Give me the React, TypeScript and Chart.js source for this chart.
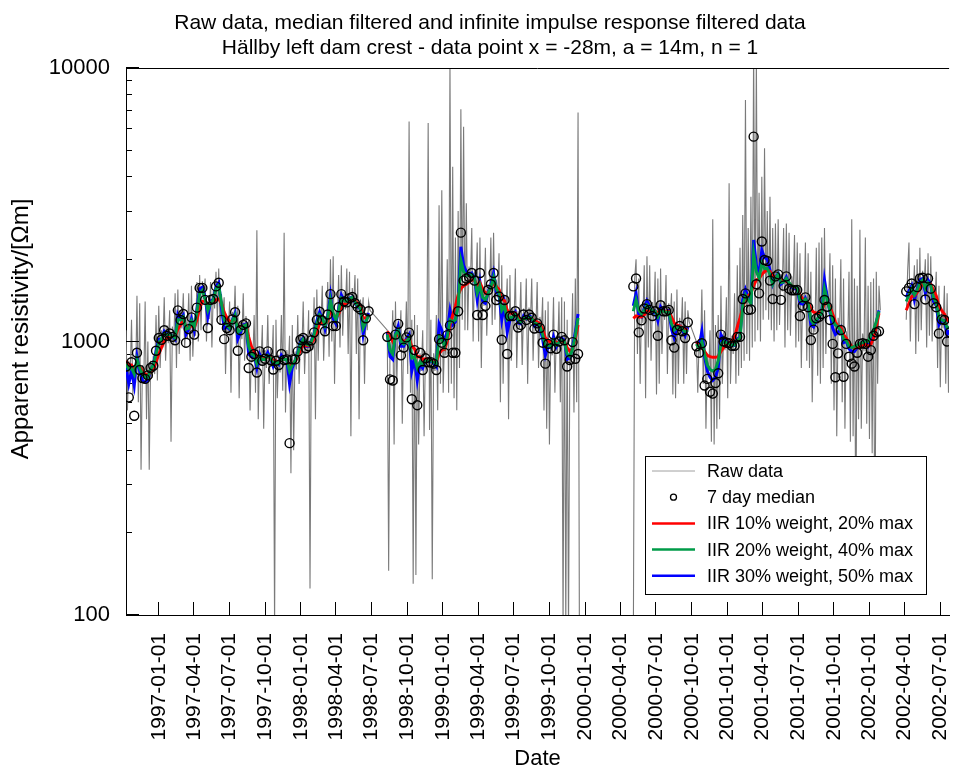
import { useEffect, useRef } from 'react';
import { Chart, registerables } from 'chart.js';

Chart.register(...registerables);

const FONT = "'Liberation Sans', Arial, Helvetica, sans-serif";
const DAY = 86400000;

const TITLE_LINES = [
  'Raw data, median filtered and infinite impulse response filtered data',
  'Hällby left dam crest - data point x = -28m, a = 14m, n = 1',
];
const X_TITLE = 'Date';
const Y_TITLE = 'Apparent resistivity/[Ωm]';

const AXIS_START = '1996-10-08T20:00:00Z';
const AXIS_END = '2002-07-24T02:00:00Z';

const X_TICKS = [
  '1997-01-01', '1997-04-01', '1997-07-01', '1997-10-01',
  '1998-01-01', '1998-04-01', '1998-07-01', '1998-10-01',
  '1999-01-01', '1999-04-01', '1999-07-01', '1999-10-01',
  '2000-01-01', '2000-04-01', '2000-07-01', '2000-10-01',
  '2001-01-01', '2001-04-01', '2001-07-01', '2001-10-01',
  '2002-01-01', '2002-04-01', '2002-07-01',
];
const Y_TICKS = [100, 200, 300, 400, 500, 600, 700, 800, 900, 1000, 2000, 3000, 4000, 5000, 6000, 7000, 8000, 9000, 10000];
const Y_LABELED = [100, 1000, 10000];

const SERIES_LABELS = [
  'Raw data',
  '7 day median',
  'IIR 10% weight, 20% max',
  'IIR 20% weight, 40% max',
  'IIR 30% weight, 50% max',
];
const SERIES_COLORS = ['#7a7a7a', '#000000', '#ff0000', '#009b48', '#0000ff'];

// Measurement periods. Filtered values are weekly from the period start,
// raw values come as (high, low) pairs twice a week.
const PERIOD_STARTS = ['1996-10-09', '1998-08-11', '2000-05-04', '2000-10-13', '2002-04-05'];

// ---- 1996-10 .. 1998-06
const medianA = [
  810, 625, 840, 535, 910, 787, 735, 730, 752, 800,
  815, 925, 1030, 1015, 1100, 1050, 1070, 1040, 1010, 1300,
  1199, 1260, 990, 1110, 1225, 1060, 1330, 1570, 1570, 1420,
  1120, 1420, 1430, 1590, 1640, 1200, 1020, 1120, 1100, 1205,
  1280, 925, 1100, 1150, 1165, 800, 880, 900, 770, 920,
  850, 865, 920, 856, 790, 850, 820, 900, 856, 860,
  425, 860, 860, 920, 1015, 1030, 945, 960, 1010, 1080,
  1200, 1285, 1195, 1090, 1255, 1490, 1140, 1140, 1335, 1490,
  1400, 1390, 1440, 1455, 1380, 1335, 1310, 1010, 1215, 1290,
];
const iir10A = [
  850, 820, 820, 790, 830, 810, 780, 760, 755, 770,
  790, 840, 900, 950, 1000, 1030, 1040, 1045, 1040, 1110,
  1150, 1190, 1130, 1120, 1150, 1120, 1200, 1330, 1400, 1410,
  1360, 1380, 1400, 1420, 1430, 1380, 1280, 1220, 1180, 1190,
  1210, 1140, 1130, 1140, 1150, 1040, 960, 920, 880, 880,
  870, 865, 880, 875, 850, 850, 840, 860, 860, 860,
  810, 830, 845, 880, 930, 970, 965, 965, 985, 1020,
  1090, 1160, 1180, 1150, 1190, 1300, 1260, 1220, 1260, 1340,
  1370, 1380, 1400, 1420, 1410, 1380, 1350, 1220, 1220, 1240,
];
const iir20A = [
  830, 790, 800, 760, 860, 800, 760, 740, 740, 790,
  820, 900, 990, 1020, 1070, 1060, 1060, 1050, 1030, 1200,
  1200, 1230, 1110, 1120, 1190, 1130, 1280, 1500, 1540, 1430,
  1300, 1380, 1420, 1560, 1600, 1380, 1200, 1150, 1120, 1190,
  1250, 1080, 1100, 1140, 1150, 960, 900, 890, 830, 880,
  860, 860, 890, 870, 830, 840, 830, 870, 860, 860,
  780, 820, 850, 900, 980, 1020, 980, 970, 1000, 1060,
  1160, 1250, 1220, 1140, 1220, 1420, 1270, 1200, 1300, 1440,
  1410, 1400, 1430, 1450, 1400, 1350, 1320, 1120, 1180, 1250,
];
const iir30A = [
  800, 700, 780, 690, 880, 780, 720, 710, 720, 790,
  820, 920, 1020, 1020, 1090, 1060, 1070, 1050, 1020, 1260,
  1210, 1250, 1060, 1110, 1210, 1100, 1310, 1560, 1580, 1450,
  1230, 1400, 1430, 1590, 1640, 1330, 1120, 1130, 1110, 1200,
  1270, 1020, 1080, 1150, 1160, 900, 880, 895, 800, 900,
  860, 865, 910, 865, 810, 845, 825, 890, 860, 860,
  700, 800, 850, 910, 1000, 1030, 960, 960, 1010, 1070,
  1190, 1280, 1210, 1110, 1240, 1470, 1210, 1160, 1320, 1480,
  1410, 1395, 1440, 1455, 1390, 1340, 1315, 1060, 1190, 1270,
];
const rawA = [
  1100, 560, 850, 735, 1200, 640, 820, 705, 1470, 600, 1380, 340, 820, 705, 1400, 520, 1000, 340, 850, 735,
  885, 760, 1250, 720, 1350, 800, 1100, 950, 1450, 850, 1145, 985, 1300, 430, 1135, 975, 1500, 800, 1550, 900,
  1300, 1115, 1500, 950, 1200, 1030, 1500, 850, 1600, 880, 1220, 1050, 1650, 1000, 1750, 1100, 1660, 1430, 1700, 1000,
  1400, 1210, 1650, 950, 1530, 1320, 1800, 1200, 1850, 1150, 1490, 1280, 1450, 760, 1240, 1070, 1400, 650, 1285, 1105,
  1600, 950, 1350, 620, 1190, 1020, 1500, 850, 1240, 1070, 1200, 560, 970, 840, 1250, 650, 2550, 520, 950, 820,
  1150, 480, 930, 800, 1250, 700, 940, 810, 1150, 90, 1200, 620, 895, 770, 1250, 660, 2500, 550, 930, 800,
  1050, 330, 1150, 400, 920, 790, 1250, 700, 1060, 910, 1400, 760, 1060, 910, 1300, 125, 1080, 930, 1450, 520,
  1550, 850, 1350, 1160, 1600, 850, 1230, 1060, 1650, 880, 2000, 1000, 2050, 700, 1300, 1115, 1750, 950, 1900, 1050,
  1520, 1310, 1850, 900, 1800, 450, 1570, 1350, 1750, 900, 1700, 520, 1425, 1230, 1450, 700, 1275, 1100, 1400, 1300,
];

// ---- 1998-08 .. 1999-12
const medianB = [
  1040, 727, 720, 1060, 1160, 890, 950, 1035, 1078, 615,
  930, 585, 910, 787, 868, 840, 840, 830, 787, 1020,
  990, 910, 1055, 1145, 910, 910, 1290, 2500, 1670, 1700,
  1720, 1780, 1670, 1250, 1780, 1250, 1350, 1543, 1620, 1780,
  1418, 1460, 1015, 1418, 900, 1240, 1240, 1290, 1125, 1150,
  1255, 1199, 1255, 1222, 1115, 1165, 1120, 990, 830, 980,
  945, 1060, 940, 1000, 1040, 1010, 810, 856, 995, 865, 900,
];
const iir10B = [
  1090, 1050, 1000, 1040, 1070, 1020, 1000, 1010, 1030, 960,
  940, 880, 880, 860, 865, 860, 855, 850, 840, 900,
  930, 935, 1000, 1150, 1250, 1350, 1480, 1560, 1600, 1620,
  1650, 1680, 1680, 1600, 1640, 1560, 1500, 1510, 1560, 1650,
  1590, 1550, 1430, 1410, 1300, 1280, 1260, 1270, 1230, 1200,
  1210, 1210, 1220, 1220, 1190, 1180, 1160, 1110, 1030, 1010,
  990, 1010, 990, 990, 1000, 1000, 950, 920, 940, 1020, 1150,
];
const iir20B = [
  1060, 930, 900, 1060, 1100, 1000, 980, 1000, 1030, 870,
  880, 800, 840, 820, 850, 850, 850, 840, 830, 1040,
  1020, 960, 1040, 1200, 1180, 1200, 1350, 1980, 1800, 1750,
  1740, 1760, 1700, 1500, 1600, 1450, 1420, 1500, 1580, 1720,
  1560, 1500, 1300, 1350, 1200, 1220, 1230, 1260, 1200, 1180,
  1220, 1210, 1230, 1220, 1170, 1160, 1140, 1060, 960, 970,
  955, 1010, 970, 990, 1010, 1000, 900, 880, 940, 1050, 1220,
];
const iir30B = [
  1080, 880, 860, 1070, 1140, 960, 960, 1020, 1060, 780,
  860, 720, 830, 800, 855, 845, 845, 835, 810, 1160,
  1100, 980, 1100, 1300, 1150, 1180, 1400, 2220, 1900, 1800,
  1760, 1780, 1710, 1420, 1650, 1400, 1380, 1520, 1610, 1780,
  1520, 1480, 1200, 1360, 1080, 1200, 1230, 1280, 1170, 1160,
  1240, 1210, 1245, 1225, 1140, 1160, 1130, 1020, 890, 960,
  950, 1040, 955, 995, 1030, 1010, 860, 870, 960, 1080, 1260,
];
const rawB = [
  1100, 145, 1000, 865, 1300, 420, 1400, 700, 1190, 1020, 1300, 500, 1060, 910, 1400, 760, 6370, 650, 1200, 130,
  1250, 140, 1150, 420, 905, 780, 1100, 450, 920, 790, 6300, 475, 1200, 135, 905, 780, 1250, 560, 3150, 700,
  3570, 650, 1040, 890, 2000, 650, 10500, 700, 4350, 620, 2400, 560, 3000, 800, 7060, 1200, 6100, 1100, 3200, 1100,
  1880, 1620, 2600, 1000, 1835, 1580, 2300, 1000, 2400, 800, 1565, 1350, 2200, 1050, 1620, 1395, 2400, 1150, 2500, 1200,
  1685, 1450, 2100, 600, 1900, 700, 1460, 1255, 1700, 520, 1750, 850, 1330, 1145, 1850, 800, 1295, 1115, 1650, 820,
  1320, 1135, 1700, 700, 1330, 1145, 1700, 850, 1265, 1090, 1650, 800, 1230, 1060, 1450, 560, 1300, 480, 1400, 420,
  1030, 890, 1450, 650, 1050, 900, 1400, 600, 1450, 90, 1400, 90, 1200, 85, 950, 820, 1500, 550, 1700, 600, 6870, 80,
];

// ---- 2000-05 .. 2000-09
const medianC1 = [
  1590, 1700, 1080, 1195, 1320, 1370, 1305, 1240, 1290, 1050,
  1357, 1290, 1290, 1305, 1010, 950, 1102, 1140, 1090, 1030, 1175,
];
const iir10C1 = [
  1215, 1240, 1230, 1230, 1250, 1290, 1300, 1290, 1290, 1270,
  1290, 1290, 1290, 1290, 1230, 1170, 1150, 1140, 1120, 1100, 1110,
];
const iir20C1 = [
  1290, 1420, 1300, 1260, 1300, 1360, 1330, 1290, 1290, 1230,
  1300, 1290, 1280, 1280, 1160, 1100, 1120, 1130, 1110, 1080, 1100,
];
const iir30C1 = [
  1350, 1500, 1250, 1230, 1320, 1410, 1340, 1270, 1290, 1190,
  1340, 1290, 1290, 1300, 1110, 1030, 1110, 1140, 1100, 1050, 1130,
];
const rawC1 = [
  80, 1700, 2000, 900, 1700, 700, 1360, 1170, 1900, 620, 2050, 950, 1900, 850, 1395, 1200, 1800, 640, 1700, 700,
  1850, 900, 1395, 1200, 1750, 760, 1380, 1190, 1500, 640, 1400, 620, 1550, 700, 1220, 1050, 1450, 700, 1400, 760, 1300, 1180,
];

// ---- 2000-10 .. 2002-01
const medianC2 = [
  960, 910, 985, 690, 730, 655, 645, 705, 765, 1060,
  1000, 990, 985, 965, 965, 1040, 1040, 1430, 1500, 1305,
  1310, 5610, 1620, 1500, 2320, 1986, 1970, 1670, 1430, 1730,
  1760, 1420, 1600, 1730, 1560, 1540, 1540, 1543, 1240, 1350,
  1450, 1335, 1013, 1105, 1215, 1230, 1260, 1418, 1340, 1199,
  980, 740, 905, 1102, 743, 980, 880, 830, 810, 910,
  980, 985, 980, 880, 930, 1050, 1080, 1090,
];
const iir10C2 = [
  1000, 960, 950, 920, 890, 880, 875, 875, 880, 920,
  950, 970, 985, 1000, 1040, 1130, 1220, 1330, 1420, 1470,
  1500, 1600, 1680, 1700, 1760, 1800, 1830, 1800, 1740, 1720,
  1720, 1680, 1660, 1660, 1630, 1600, 1580, 1560, 1480, 1430,
  1420, 1390, 1320, 1280, 1270, 1270, 1290, 1380, 1380, 1340,
  1260, 1180, 1130, 1130, 1060, 1030, 990, 960, 945, 950,
  960, 970, 975, 960, 975, 1030, 1130, 1270,
];
const iir20C2 = [
  980, 945, 1000, 900, 820, 790, 780, 790, 850, 980,
  1000, 990, 980, 970, 970, 1010, 1030, 1350, 1480, 1420,
  1380, 2100, 1800, 1700, 1930, 1850, 1850, 1760, 1620, 1700,
  1760, 1640, 1650, 1700, 1640, 1600, 1580, 1570, 1420, 1400,
  1430, 1380, 1200, 1160, 1200, 1230, 1270, 1560, 1420, 1300,
  1200, 1150, 1130, 1100, 1020, 1010, 960, 950, 960, 970,
  985, 990, 1000, 1000, 1050, 1100, 1180, 1290,
];
const iir30C2 = [
  1000, 960, 1090, 880, 780, 740, 720, 740, 800, 1060,
  1020, 995, 985, 970, 968, 1020, 1040, 1420, 1550, 1450,
  1400, 2350, 1900, 1750, 2160, 2030, 2000, 1820, 1620, 1720,
  1770, 1620, 1650, 1720, 1620, 1580, 1560, 1560, 1380, 1370,
  1440, 1370, 1150, 1130, 1190, 1230, 1280, 1680, 1450, 1280,
  1120, 1060, 1080, 1120, 990, 1000, 940, 920, 920, 950,
  985, 990, 1000, 960, 1000, 1080, 1170, 1300,
];
const rawC2 = [
  1000, 650, 1020, 880, 1550, 700, 1300, 480, 885, 760, 1100, 430, 2800, 420, 1150, 480, 1250, 520, 1600, 700,
  1080, 930, 1450, 620, 3790, 700, 1050, 900, 1500, 700, 1900, 750, 2200, 800, 2900, 850, 7640, 900, 2600, 850,
  3380, 950, 12000, 1000, 11000, 1100, 3500, 1000, 4000, 1200, 5090, 1300, 3000, 1200, 3380, 1100, 2600, 1000, 2700, 1100,
  2800, 1150, 1770, 1525, 2600, 950, 2700, 1100, 2500, 1050, 1730, 1490, 2450, 950, 2300, 1000, 2100, 800, 1510, 1300,
  2300, 850, 2100, 800, 1800, 600, 1250, 1080, 2200, 750, 2300, 700, 2400, 800, 2600, 900, 1535, 1320, 2100, 700,
  1900, 560, 1700, 450, 1220, 1050, 2000, 600, 1700, 480, 1090, 940, 1800, 430, 2800, 450, 1700, 180, 1600, 520,
  2560, 480, 1070, 920, 2400, 500, 1600, 440, 1650, 390, 1700, 140, 1800, 700, 1600, 1300,
];

// ---- 2002-04 .. 2002-07
const medianD = [1525, 1570, 1630, 1370, 1580, 1700, 1710, 1425, 1700, 1560, 1380, 1335, 1070, 1205, 1199, 1000, 1080];
const iir10D = [1300, 1380, 1460, 1470, 1510, 1570, 1620, 1590, 1620, 1620, 1540, 1470, 1350, 1300, 1260, 1200, 1180];
const iir20D = [1400, 1480, 1560, 1480, 1540, 1640, 1680, 1560, 1640, 1600, 1450, 1380, 1220, 1200, 1190, 1120, 1130];
const iir30D = [1450, 1530, 1600, 1420, 1560, 1680, 1700, 1500, 1680, 1620, 1400, 1360, 1150, 1190, 1195, 1060, 1100];
const rawD = [
  1200, 1800, 2300, 1000, 1685, 1450, 1900, 900, 2000, 1000, 2200, 1100, 1815, 1560, 2000, 950, 2100, 1050,
  2050, 1000, 1565, 1350, 1800, 800, 1600, 680, 1295, 1115, 1600, 700, 1500, 650, 1550, 700,
];

// The raw logger trace continues across the short breaks in 1998-07 and 2000-10.
const RAW_JOINED = [true, false, true, false];

type Pt = { x: number; y: number | null };

const toMs = (d: string) => Date.parse(d.length === 10 ? d + 'T00:00:00Z' : d);

const weekly = (start: string, vals: number[]): Pt[] =>
  vals.map((y, i) => ({ x: toMs(start) + i * 7 * DAY, y }));

const twiceWeekly = (start: string, vals: number[]): Pt[] =>
  vals.map((y, k) => ({ x: toMs(start) + (Math.floor(k / 2) * 7 + (k % 2) * 3.5) * DAY, y }));

function chain(parts: Pt[][], joined: boolean[]): Pt[] {
  const out: Pt[] = [];
  parts.forEach((p, i) => {
    if (i > 0 && !joined[i - 1]) out.push({ x: out[out.length - 1].x + DAY, y: null });
    out.push(...p);
  });
  return out;
}

const NO_JOIN = [false, false, false, false];
const rawSeries = chain(
  [rawA, rawB, rawC1, rawC2, rawD].map((v, i) => twiceWeekly(PERIOD_STARTS[i], v)),
  RAW_JOINED,
);
const medianSeries = chain(
  [medianA, medianB, medianC1, medianC2, medianD].map((v, i) => weekly(PERIOD_STARTS[i], v)),
  NO_JOIN,
);
const iir10Series = chain(
  [iir10A, iir10B, iir10C1, iir10C2, iir10D].map((v, i) => weekly(PERIOD_STARTS[i], v)),
  NO_JOIN,
);
const iir20Series = chain(
  [iir20A, iir20B, iir20C1, iir20C2, iir20D].map((v, i) => weekly(PERIOD_STARTS[i], v)),
  NO_JOIN,
);
const iir30Series = chain(
  [iir30A, iir30B, iir30C1, iir30C2, iir30D].map((v, i) => weekly(PERIOD_STARTS[i], v)),
  NO_JOIN,
);

const pad2 = (n: number) => String(n).padStart(2, '0');
const isoDate = (ms: number) => {
  const d = new Date(ms);
  return `${d.getUTCFullYear()}-${pad2(d.getUTCMonth() + 1)}-${pad2(d.getUTCDate())}`;
};

// Title, y-axis caption, top frame line, long decade ticks and the boxed legend
const decorations = {
  id: 'decorations',
  afterDraw(chart: any) {
    const { ctx, chartArea: a, scales } = chart;
    ctx.save();

    ctx.fillStyle = '#000';
    ctx.font = `21px ${FONT}`;
    ctx.textAlign = 'center';
    ctx.textBaseline = 'alphabetic';
    TITLE_LINES.forEach((t, i) => ctx.fillText(t, 490, 29 + i * 25));

    ctx.save();
    ctx.translate(21, 329);
    ctx.rotate(-Math.PI / 2);
    ctx.font = `24px ${FONT}`;
    ctx.textBaseline = 'middle';
    ctx.fillText(Y_TITLE, 0, 0);
    ctx.restore();

    ctx.strokeStyle = '#000';
    ctx.lineWidth = 1;
    ctx.beginPath();
    ctx.moveTo(a.left, a.top + 0.5);
    ctx.lineTo(a.right, a.top + 0.5);
    for (const v of Y_LABELED) {
      const py = Math.round(scales.y.getPixelForValue(v)) - 0.5;
      ctx.moveTo(a.left, py);
      ctx.lineTo(a.left + 13, py);
    }
    ctx.stroke();

    const bx = 645.5, by = 456.5, bw = 281, bh = 138;
    ctx.fillStyle = '#fff';
    ctx.fillRect(bx, by, bw, bh);
    ctx.strokeRect(bx, by, bw, bh);
    ctx.font = `18px ${FONT}`;
    ctx.textAlign = 'left';
    ctx.textBaseline = 'middle';
    SERIES_LABELS.forEach((label, i) => {
      const ry = 471 + i * 26.2;
      if (i === 1) {
        ctx.beginPath();
        ctx.arc(673.5, ry, 3, 0, Math.PI * 2);
        ctx.strokeStyle = '#000';
        ctx.lineWidth = 1.3;
        ctx.stroke();
      } else {
        ctx.beginPath();
        ctx.moveTo(652, ry);
        ctx.lineTo(695, ry);
        ctx.strokeStyle = i === 0 ? '#a0a0a0' : SERIES_COLORS[i];
        ctx.lineWidth = i === 0 ? 1 : 2.5;
        ctx.stroke();
      }
      ctx.fillStyle = '#000';
      ctx.fillText(label, 707, ry + 1);
    });
    ctx.restore();
  },
};

export default function App() {
  const ref = useRef<HTMLCanvasElement>(null);

  useEffect(() => {
    Chart.defaults.font.family = FONT;
    Chart.defaults.color = '#000';

    const lineStyle = (i: number, order: number) => ({
      label: SERIES_LABELS[i],
      borderColor: SERIES_COLORS[i],
      backgroundColor: SERIES_COLORS[i],
      borderWidth: 3,
      pointRadius: 0,
      spanGaps: false,
      tension: 0,
      order,
    });

    const chart = new Chart(ref.current as HTMLCanvasElement, {
      type: 'line',
      data: {
        datasets: [
          {
            label: SERIES_LABELS[0],
            data: rawSeries as any,
            borderColor: SERIES_COLORS[0],
            borderWidth: 1.1,
            pointRadius: 0,
            spanGaps: false,
            order: 4,
          },
          {
            label: SERIES_LABELS[1],
            data: medianSeries as any,
            showLine: false,
            pointStyle: 'circle',
            pointRadius: 4.5,
            pointBorderWidth: 1.4,
            pointBorderColor: '#000',
            pointBackgroundColor: 'rgba(0,0,0,0)',
            order: 0,
          },
          { ...lineStyle(2, 2), data: iir10Series as any },
          { ...lineStyle(3, 1), data: iir20Series as any },
          { ...lineStyle(4, 3), data: iir30Series as any },
        ],
      },
      options: {
        responsive: false,
        animation: false,
        events: [],
        layout: { padding: { top: 68, left: 0, right: 0, bottom: 0 } },
        plugins: {
          legend: { display: false },
          tooltip: { enabled: false },
          title: { display: false },
        },
        scales: {
          x: {
            type: 'linear',
            min: toMs(AXIS_START),
            max: toMs(AXIS_END),
            afterBuildTicks: (s: any) => {
              s.ticks = X_TICKS.map((d) => ({ value: toMs(d) }));
            },
            afterFit: (s: any) => {
              s.height = 155;
              s.paddingLeft = 0;
              s.paddingRight = 0;
            },
            grid: { drawOnChartArea: false, tickLength: -13, color: '#000', lineWidth: 1 },
            border: { color: '#000', width: 1 },
            ticks: {
              autoSkip: false,
              minRotation: 90,
              maxRotation: 90,
              padding: 31,
              color: '#000',
              font: { size: 21 },
              callback: (v: any) => isoDate(Number(v)),
            },
            title: {
              display: true,
              text: X_TITLE,
              color: '#000',
              font: { size: 22, lineHeight: 1 },
              padding: { top: 0, bottom: 0 },
            },
          },
          y: {
            type: 'logarithmic',
            min: 100,
            max: 10000,
            afterBuildTicks: (s: any) => {
              s.ticks = Y_TICKS.map((v) => ({ value: v }));
            },
            afterFit: (s: any) => {
              s.width = 126;
              s.paddingTop = 0;
              s.paddingBottom = 0;
            },
            grid: { drawOnChartArea: false, tickLength: -6, color: '#000', lineWidth: 1 },
            border: { color: '#000', width: 1 },
            ticks: {
              autoSkip: false,
              padding: 22,
              color: '#000',
              font: { size: 22 },
              callback: (v: any) => (Y_LABELED.includes(Number(v)) ? String(v) : ''),
            },
          },
        },
      },
      plugins: [decorations],
    });

    return () => chart.destroy();
  }, []);

  return (
    <div style={{ position: 'absolute', left: 0, top: 0, width: 955, height: 770, background: '#fff' }}>
      <canvas ref={ref} width={955} height={770} style={{ display: 'block' }} />
    </div>
  );
}
